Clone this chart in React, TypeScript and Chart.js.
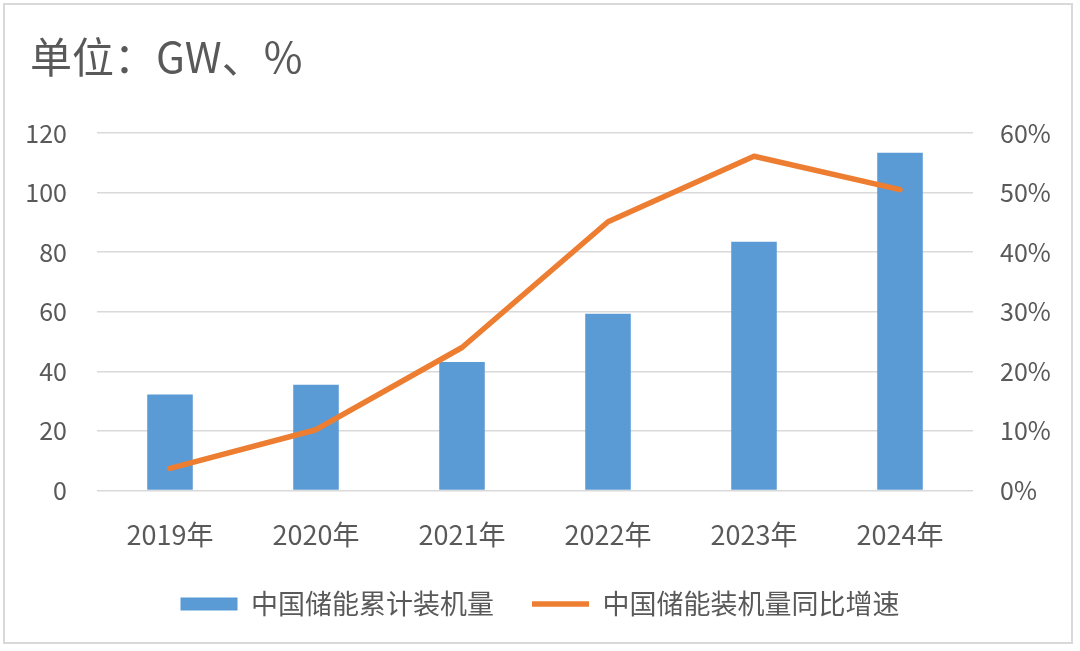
import React, { useEffect, useRef } from 'react';
import { Chart, registerables } from 'chart.js';

Chart.register(...registerables);

const categories = ['2019年', '2020年', '2021年', '2022年', '2023年', '2024年'];
const cumulativeGW = [32.2, 35.5, 43.1, 59.3, 83.5, 113.4];
const growthPct = [3.7, 10.2, 24.0, 45.1, 56.1, 50.5];
const leftAxis = { min: 0, max: 120, step: 20 };
const rightAxis = { min: 0, max: 60, step: 10 };
const titleText = '单位：GW、%';
const barLabel = '中国储能累计装机量';
const lineLabel = '中国储能装机量同比增速';

const FONT = '"Noto Sans CJK SC", "Noto Sans", sans-serif';
const TEXT = '#595959';

const titlePlugin = {
  id: 'unitTitle',
  afterDraw(chart: any) {
    const ctx = chart.ctx;
    ctx.save();
    ctx.font = `42px ${FONT}`;
    ctx.fillStyle = TEXT;
    ctx.textBaseline = 'middle';
    ctx.textAlign = 'left';
    ctx.fillText(titleText, 30, 57);
    ctx.restore();
  },
};

export default function App() {
  const ref = useRef<HTMLCanvasElement>(null);
  useEffect(() => {
    const chart = new Chart(ref.current!, {
      type: 'bar',
      data: {
        labels: categories,
        datasets: [
          {
            type: 'bar',
            label: barLabel,
            data: cumulativeGW,
            backgroundColor: '#5b9bd5',
            borderWidth: 0,
            barPercentage: 0.312,
            categoryPercentage: 1,
            yAxisID: 'y',
            order: 1,
            pointStyle: 'rect',
          } as any,
          {
            type: 'line',
            label: lineLabel,
            data: growthPct,
            borderColor: '#ed7d31',
            backgroundColor: '#ed7d31',
            borderWidth: 5.5,
            borderCapStyle: 'round',
            borderJoinStyle: 'round',
            tension: 0,
            pointRadius: 0,
            pointHoverRadius: 0,
            pointStyle: 'line',
            yAxisID: 'y1',
            order: 0,
          } as any,
        ],
      },
      options: {
        responsive: false,
        animation: false,
        devicePixelRatio: 1,
        layout: { padding: { top: 133, bottom: 23.5, left: 0, right: 0 } },
        plugins: {
          title: { display: false },
          tooltip: { enabled: false },
          legend: {
            display: true,
            position: 'bottom',
            labels: {
              usePointStyle: true,
              pointStyleWidth: 57,
              boxHeight: 13,
              padding: 38,
              color: TEXT,
              font: { family: FONT, size: 27 },
              sort: (a: any, b: any) => a.datasetIndex - b.datasetIndex,
            },
          },
        },
        scales: {
          x: {
            grid: { display: false, drawTicks: false },
            border: { display: false },
            ticks: {
              color: TEXT,
              font: { family: FONT, size: 27 },
              padding: 28,
              maxRotation: 0,
            },
            afterFit: (s: any) => {
              s.height = 62;
            },
          },
          y: {
            position: 'left',
            min: leftAxis.min,
            max: leftAxis.max,
            ticks: {
              stepSize: leftAxis.step,
              color: TEXT,
              font: { family: FONT, size: 25 },
              padding: 30,
            },
            grid: { color: '#d9d9d9', lineWidth: 1.5, drawTicks: false },
            border: { display: false },
            afterFit: (s: any) => {
              s.width = 97;
            },
          },
          y1: {
            position: 'right',
            min: rightAxis.min,
            max: rightAxis.max,
            ticks: {
              stepSize: rightAxis.step,
              color: TEXT,
              font: { family: FONT, size: 25 },
              padding: 27,
              callback: (v: any) => `${v}%`,
            },
            grid: { display: false, drawTicks: false },
            border: { display: false },
            afterFit: (s: any) => {
              s.width = 107;
            },
          },
        },
      },
      plugins: [titlePlugin],
    });
    return () => chart.destroy();
  }, []);

  return (
    <div style={{ position: 'absolute', left: 0, top: 0, width: 1080, height: 651, background: '#fff' }}>
      <canvas ref={ref} width={1080} height={651} style={{ display: 'block' }} />
      <div
        style={{
          position: 'absolute',
          left: 3,
          top: 3,
          width: 1070,
          height: 641,
          boxSizing: 'border-box',
          border: '2px solid #d9d9d9',
          pointerEvents: 'none',
        }}
      />
    </div>
  );
}
